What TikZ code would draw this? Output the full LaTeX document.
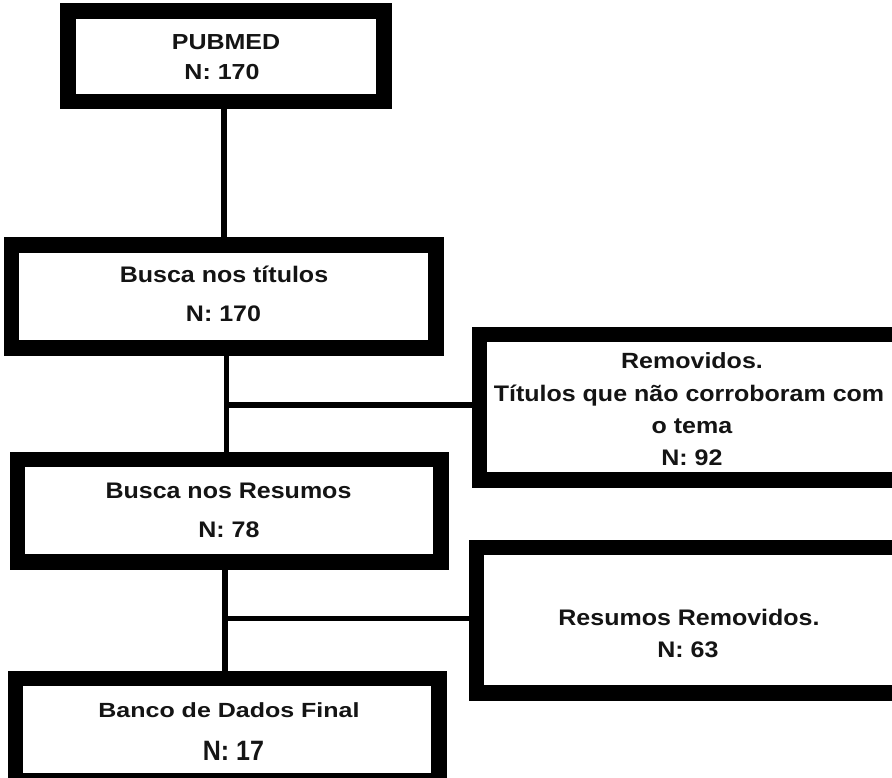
\documentclass[tikz,border=0pt]{standalone}
\usepackage{fontspec}
\setmainfont{Liberation Sans}
\usepackage{graphicx}
\begin{document}
\begin{tikzpicture}[x=1pt,y=-1pt,
  box/.style={draw=black, line width=10.5pt, fill=white, inner sep=0pt, rectangle},
  conn/.style={draw=black, line width=5.5pt},
  lbl/.style={anchor=base, inner sep=0pt, text=black!92, font=\bfseries\fontsize{25}{30}\selectfont}]
\useasboundingbox[fill=white] (0,0) rectangle (892,778);
% boxes
\node[box, minimum width=311pt, minimum height=85pt] (b1) at (226,56.5) {};
\node[box, minimum width=419pt, minimum height=97pt] (b2) at (223.5,296.5) {};
\node[box, minimum width=416pt, minimum height=140pt] (b3) at (690,407) {};
\node[box, minimum width=418pt, minimum height=97pt] (b4) at (229,510.5) {};
\node[box, minimum width=420pt, minimum height=140pt] (b5) at (689,620) {};
\node[box, minimum width=418pt, minimum height=97pt] (b6) at (227,729.5) {};
% spine coordinates
\coordinate (s1) at (224,0);
\coordinate (s2) at (226.5,0);
\coordinate (s3) at (225,0);
\coordinate (h1) at (0,405);
\coordinate (h2) at (0,618.5);
% connectors
\draw[conn] (s1 |- b1.south) -- (s1 |- b2.north);
\draw[conn] (s2 |- b2.south) -- (s2 |- b4.north);
\draw[conn] (s3 |- b4.south) -- (s3 |- b6.north);
\draw[conn] (s2 |- h1) -- (b3.west |- h1);
\draw[conn] (s3 |- h2) -- (b5.west |- h2);
% redraw box borders over connector ends
\foreach \b in {b1,b2,b3,b4,b5,b6}{\draw[black, line width=10.5pt] (\b.north west) rectangle (\b.south east);}
% labels
\node[lbl] (t1a) at (226,50) {\scalebox{1}[0.87]{PUBMED}};
\node[lbl] (t1b) at (222,80) {\scalebox{1}[0.87]{N: 170}};
\node[lbl] (t2a) at (224,283) {\scalebox{1}[0.9]{Busca nos títulos}};
\node[lbl] (t2b) at (223.5,321) {\scalebox{1}[0.9]{N: 170}};
\node[lbl] (t3a) at (692,368) {\scalebox{1}[0.88]{Removidos.}};
\node[lbl] (t3b) at (689,401) {\scalebox{1}[0.9]{Títulos que não corroboram com}};
\node[lbl] (t3c) at (692,433) {\scalebox{1}[0.9]{o tema}};
\node[lbl] (t3d) at (692,465) {\scalebox{1}[0.9]{N: 92}};
\node[lbl] (t4a) at (228.5,498) {\scalebox{1}[0.9]{Busca nos Resumos}};
\node[lbl] (t4b) at (229,537) {\scalebox{1}[0.9]{N: 78}};
\node[lbl] (t5a) at (689,625) {\scalebox{1}[0.9]{Resumos Removidos.}};
\node[lbl] (t5b) at (688,657) {\scalebox{1}[0.9]{N: 63}};
\node[lbl] (t6a) at (229,717) {\scalebox{1}[0.82]{Banco de Dados Final}};
\node[lbl] (t6b) at (233.5,760) {\scalebox{1}[1.12]{N: 17}};
\end{tikzpicture}
\end{document}
